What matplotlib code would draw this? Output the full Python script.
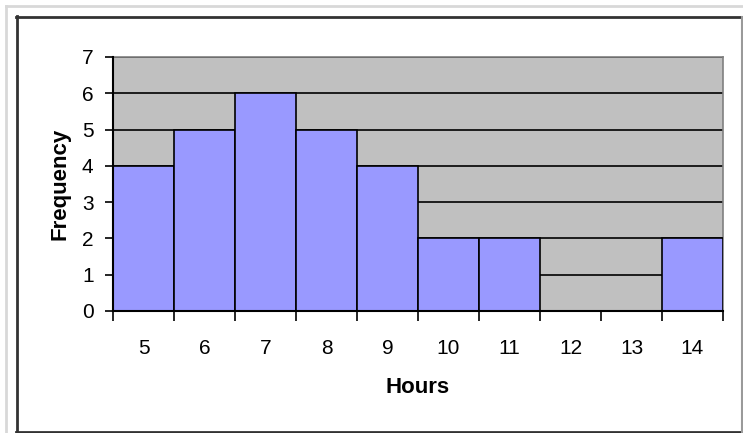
import matplotlib
matplotlib.use("Agg")
import matplotlib.pyplot as plt
from matplotlib.lines import Line2D
import numpy as np

plt.rcParams['font.family'] = ['Liberation Sans', 'DejaVu Sans']

hours = [5, 6, 7, 8, 9, 10, 11, 12, 13, 14]
frequency = [4, 5, 6, 5, 4, 2, 2, 0, 0, 2]
y_ticks = [0, 1, 2, 3, 4, 5, 6, 7]

W, H = 743, 433
fig = plt.figure(figsize=(W / 100, H / 100), dpi=100)
fig.patch.set_facecolor('white')

# plot area in pixels
L, R, T, B = 113, 723, 57, 311
ax = fig.add_axes([L / W, 1 - B / H, (R - L) / W, (B - T) / H])
ax.set_facecolor('#C0C0C0')

n = len(hours)
pos = np.arange(n)
ax.bar(pos, frequency, width=1.0, color='#9999FF', edgecolor='black',
       linewidth=1.2, zorder=3)

ax.set_xlim(-0.5, n - 0.5)
ax.set_ylim(0, 7)
ax.set_yticks(y_ticks)
ax.set_yticklabels([str(v) for v in y_ticks], fontsize=15)
ax.yaxis.grid(True, color='black', linewidth=1.2, zorder=1)
ax.set_axisbelow(True)

# major ticks at category boundaries (no labels); minor ticks at centers with labels
ax.set_xticks(np.arange(n + 1) - 0.5)
ax.set_xticklabels([''] * (n + 1))
ax.set_xticks(pos, [str(h) for h in hours], minor=True)
ax.tick_params(axis='x', which='major', length=7, width=1.2, direction='out', color='black')
ax.tick_params(axis='x', which='minor', length=0, pad=20, labelsize=15)
ax.tick_params(axis='y', length=6, width=1.2, direction='out', pad=8, color='black')

for s in ['top', 'right']:
    ax.spines[s].set_color('#808080')
    ax.spines[s].set_linewidth(1.2)
for s in ['left', 'bottom']:
    ax.spines[s].set_color('black')
    ax.spines[s].set_linewidth(1.5)
ax.spines['left'].set_zorder(4)
ax.spines['bottom'].set_zorder(4)

ax.set_xlabel('Hours', fontsize=16, fontweight='bold', labelpad=14)
ax.set_ylabel('Frequency', fontsize=16, fontweight='bold', labelpad=8)

# outer frames (figure pixel coords)
def px_line(x0, y0, x1, y1, color, lw):
    fig.add_artist(Line2D([x0 / W, x1 / W], [1 - y0 / H, 1 - y1 / H],
                          transform=fig.transFigure, color=color, linewidth=lw))

px_line(6, 6, 743, 6, '#D8D8D8', 2.0)
px_line(6, 6, 6, 433, '#D8D8D8', 2.0)
px_line(16, 16.5, 743, 16.5, '#333333', 2.0)
px_line(16.5, 16, 16.5, 433, '#333333', 2.0)
px_line(16, 432, 743, 432, '#333333', 2.0)
px_line(742, 17, 742, 432, '#9A9A9A', 1.5)

fig.savefig('out.png', dpi=100)
